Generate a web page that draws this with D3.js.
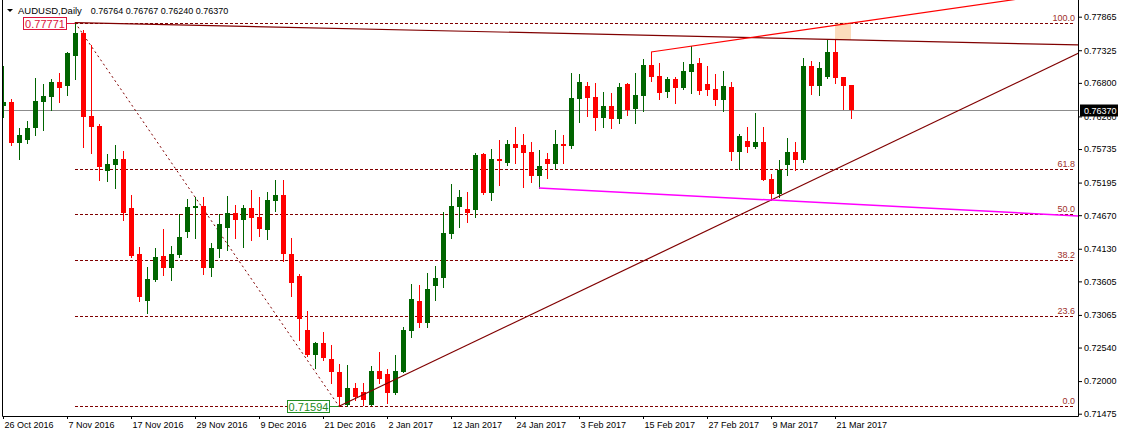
<!DOCTYPE html>
<head>
<meta charset="utf-8">
<style>
    body { margin: 0; background: #fff; }
    svg { display: block; font-family: "Liberation Sans", Arial, sans-serif; }
</style>
</head>
<body>
<script src="https://d3js.org/d3.v7.min.js"></script>
<script>

///////////////////////////
////////// DATA //////////
///////////////////////////

const symbol = 'AUDUSD,Daily';
const firstDay = '2016-10-26';
const lastDay = '2017-03-23';

const opens = [
    0.76427, 0.76492, 0.75831, 0.75880, 0.76073, 0.76492, 0.76572, 0.76814, 0.76749, 0.77232,
    0.77603, 0.76266, 0.76105, 0.75381, 0.75478, 0.75574, 0.74785, 0.74045, 0.73288, 0.73626,
    0.74013, 0.73820, 0.74029, 0.74399, 0.74785, 0.74817, 0.73820, 0.74125, 0.74463, 0.74705,
    0.74592, 0.74785, 0.74641, 0.74431, 0.74898, 0.74995, 0.74045, 0.73691, 0.72821, 0.72419,
    0.72612, 0.72354, 0.72145, 0.71614, 0.71888, 0.71822, 0.71614, 0.72161, 0.72113, 0.71807,
    0.72145, 0.72805, 0.73288, 0.72934, 0.73530, 0.73658, 0.74367, 0.74801, 0.74769, 0.74753,
    0.75654, 0.75027, 0.75574, 0.75510, 0.75815, 0.75799, 0.75687, 0.75300, 0.75574, 0.75494,
    0.75815, 0.75783, 0.76540, 0.76749, 0.76572, 0.76234, 0.76427, 0.76218, 0.76782, 0.76379,
    0.76588, 0.77088, 0.76910, 0.76653, 0.76862, 0.76717, 0.76975, 0.77120, 0.76782, 0.76701,
    0.76524, 0.76733, 0.75687, 0.75864, 0.75767, 0.75848, 0.75252, 0.75011, 0.75478, 0.75687,
    0.75558, 0.77071, 0.76749, 0.76894, 0.77297, 0.76894, 0.76764
];
const highs = [
    0.77071, 0.76540, 0.76073, 0.76186, 0.76878, 0.76782, 0.76862, 0.76959, 0.77297, 0.77771,
    0.77651, 0.77410, 0.76138, 0.75654, 0.75799, 0.75703, 0.74995, 0.74157, 0.73836, 0.74141,
    0.74447, 0.74173, 0.74689, 0.74930, 0.74962, 0.74962, 0.74222, 0.74689, 0.74978, 0.74834,
    0.74834, 0.75075, 0.74962, 0.75043, 0.75236, 0.75236, 0.74302, 0.73723, 0.73127, 0.72628,
    0.72789, 0.72580, 0.72274, 0.72258, 0.71968, 0.71968, 0.72241, 0.72467, 0.72193, 0.72419,
    0.72869, 0.73562, 0.73546, 0.73739, 0.73852, 0.74721, 0.75172, 0.75075, 0.75043, 0.75671,
    0.75671, 0.75735, 0.75880, 0.75880, 0.76089, 0.75977, 0.75848, 0.75719, 0.75671, 0.76041,
    0.75961, 0.76959, 0.76943, 0.76814, 0.76798, 0.76653, 0.76637, 0.76798, 0.76798, 0.76959,
    0.77184, 0.77297, 0.77120, 0.76894, 0.76894, 0.77136, 0.77393, 0.77200, 0.77071, 0.76943,
    0.76991, 0.76814, 0.75977, 0.76089, 0.76315, 0.76089, 0.75333, 0.75558, 0.75912, 0.75848,
    0.77200, 0.77152, 0.77136, 0.77490, 0.77490, 0.76894, 0.76767
];
const lows = [
    0.76250, 0.75799, 0.75574, 0.75831, 0.75961, 0.76041, 0.76363, 0.76492, 0.76605, 0.76862,
    0.75767, 0.75671, 0.75236, 0.75220, 0.75107, 0.74592, 0.73997, 0.73288, 0.73095, 0.73610,
    0.73707, 0.73626, 0.73997, 0.74318, 0.74302, 0.73723, 0.73691, 0.73997, 0.74109, 0.74302,
    0.74157, 0.74270, 0.74334, 0.74286, 0.74737, 0.73933, 0.73369, 0.72660, 0.72400, 0.72209,
    0.72338, 0.71968, 0.71594, 0.71600, 0.71694, 0.71614, 0.71610, 0.71968, 0.71646, 0.71800,
    0.72140, 0.72708, 0.72869, 0.72869, 0.73304, 0.73514, 0.74302, 0.74480, 0.74560, 0.74641,
    0.75011, 0.74914, 0.75156, 0.75478, 0.75510, 0.75123, 0.75204, 0.75107, 0.75268, 0.75413,
    0.75510, 0.75751, 0.76170, 0.76266, 0.76041, 0.76089, 0.76073, 0.76154, 0.76283, 0.76154,
    0.76347, 0.76830, 0.76540, 0.76572, 0.76476, 0.76701, 0.76637, 0.76621, 0.76605, 0.76444,
    0.76347, 0.75558, 0.75413, 0.75687, 0.75751, 0.75230, 0.74914, 0.74962, 0.75317, 0.75397,
    0.75526, 0.76621, 0.76605, 0.76878, 0.76798, 0.76379, 0.76240
];
const closes = [
    0.76492, 0.75831, 0.75961, 0.76073, 0.76508, 0.76588, 0.76814, 0.76717, 0.77281, 0.77603,
    0.76250, 0.76089, 0.75445, 0.75494, 0.75574, 0.74705, 0.74013, 0.73353, 0.73642, 0.73997,
    0.73820, 0.74045, 0.74318, 0.74801, 0.74817, 0.73820, 0.74141, 0.74528, 0.74705, 0.74592,
    0.74785, 0.74624, 0.74447, 0.74914, 0.74995, 0.74045, 0.73578, 0.72999, 0.72419, 0.72612,
    0.72370, 0.72145, 0.71742, 0.71888, 0.71742, 0.71694, 0.72161, 0.72032, 0.71807, 0.72161,
    0.72821, 0.73321, 0.72934, 0.73481, 0.73658, 0.74383, 0.74817, 0.74962, 0.74705, 0.75638,
    0.75027, 0.75574, 0.75542, 0.75815, 0.75751, 0.75671, 0.75300, 0.75461, 0.75494, 0.75815,
    0.75783, 0.76556, 0.76814, 0.76556, 0.76234, 0.76427, 0.76218, 0.76733, 0.76363, 0.76605,
    0.77088, 0.76894, 0.76637, 0.76862, 0.76717, 0.76991, 0.77104, 0.76669, 0.76685, 0.76524,
    0.76749, 0.75687, 0.75944, 0.75767, 0.75848, 0.75236, 0.75011, 0.75397, 0.75687, 0.75558,
    0.77071, 0.76749, 0.77039, 0.77297, 0.76878, 0.76749, 0.76370
];

const xTickLabels = ['26 Oct 2016', '7 Nov 2016', '17 Nov 2016', '29 Nov 2016', '9 Dec 2016',
    '21 Dec 2016', '2 Jan 2017', '12 Jan 2017', '24 Jan 2017', '3 Feb 2017', '15 Feb 2017',
    '27 Feb 2017', '9 Mar 2017', '21 Mar 2017'];
const yTickLabels = ['0.77865', '0.77325', '0.76800', '0.76260', '0.75735', '0.75195', '0.74670',
    '0.74130', '0.73605', '0.73065', '0.72540', '0.72000', '0.71475'];

// drawn objects: [bar index, price]
const fibHigh = [9, 0.77771];
const fibLow = [42, 0.71594];
const fibLevels = [0, 23.6, 38.2, 50, 61.8, 100];
const topTrend = [[9, 0.77771], [134.4, 0.77410]];
const redTrend = [[81, 0.77297], [107, 0.77780]];
const supportTrend = [[42, 0.71594], [96, 0.74914]];
const magentaTrend = [[67, 0.75107], [96, 0.74914]];
const peachBox = [[104, 0.77771], [106, 0.77490]];
const lastPrice = 0.76370;

///////////////////////////
////////// SETUP //////////
///////////////////////////

const width = 1121, height = 437;
const plotLeft = 2.5, plotRight = 1078.5, plotBottom = 416.5;
const lastIndex = 134.4;

const svg = d3.select('body').append('svg')
    .attr('width', width)
    .attr('height', height);

const parse = d3.timeParse('%Y-%m-%d');
const fmtDay = d3.timeFormat('%-d %b %Y');
const dates = d3.timeDays(parse(firstDay), d3.timeDay.offset(parse(lastDay), 1))
    .filter(d => d.getDay() !== 0 && d.getDay() !== 6);

const bars = dates.map((d, i) => ({
    i: i, date: d, o: opens[i], h: highs[i], l: lows[i], c: closes[i]
}));

const x = d3.scaleLinear().domain([0, 134.375]).range([3, 1078]);
const y = d3.scaleLinear().domain([0.71475, 0.77865]).range([413.7, 16.7]);

svg.append('defs').append('clipPath').attr('id', 'plot')
    .append('rect').attr('x', 3).attr('y', 0).attr('width', 1075).attr('height', 416);

const plot = svg.append('g').attr('clip-path', 'url(#plot)');

// extend a two-point line to the right edge
function ray(p) {
    const slope = (p[1][1] - p[0][1]) / (p[1][0] - p[0][0]);
    return [p[0], [lastIndex, p[0][1] + slope * (lastIndex - p[0][0])]];
}
const line = d3.line().x(d => x(d[0])).y(d => y(d[1]));

//////////////////////////
////////// DRAW //////////
//////////////////////////

// peach rectangle
plot.append('rect')
    .attr('x', x(peachBox[0][0]))
    .attr('y', y(peachBox[0][1]))
    .attr('width', x(peachBox[1][0]) - x(peachBox[0][0]))
    .attr('height', y(peachBox[1][1]) - y(peachBox[0][1]))
    .attr('fill', '#fcdcbd');

// last price line
plot.append('line')
    .attr('x1', 3).attr('x2', 1078)
    .attr('y1', Math.round(y(lastPrice)) + 0.5).attr('y2', Math.round(y(lastPrice)) + 0.5)
    .attr('stroke', '#8c8c8c');

// fibonacci levels
const fibRange = fibHigh[1] - fibLow[1];
const fib = plot.append('g');
fib.selectAll('line.level').data(fibLevels).join('line')
    .attr('class', 'level')
    .attr('x1', x(fibHigh[0])).attr('x2', 1075)
    .attr('y1', d => Math.round(y(fibLow[1] + fibRange * d / 100)) + 0.5)
    .attr('y2', d => Math.round(y(fibLow[1] + fibRange * d / 100)) + 0.5)
    .attr('stroke', '#800000')
    .attr('stroke-dasharray', '3,2');
fib.selectAll('text').data(fibLevels).join('text')
    .attr('x', 1075)
    .attr('y', d => Math.round(y(fibLow[1] + fibRange * d / 100)) - 2)
    .attr('text-anchor', 'end')
    .attr('font-size', 9)
    .attr('fill', '#a0302a')
    .text(d => d3.format('.1f')(d));
plot.append('path')
    .attr('d', line([fibHigh, fibLow]))
    .attr('fill', 'none')
    .attr('stroke', '#800000')
    .attr('stroke-dasharray', '2,3');

// candles
const candle = plot.append('g').selectAll('g').data(bars).join('g')
    .attr('fill', d => d.c >= d.o ? '#006400' : '#ff0000')
    .attr('stroke', d => d.c >= d.o ? '#006400' : '#ff0000');
candle.append('line')
    .attr('x1', d => Math.round(x(d.i)) + 0.5).attr('x2', d => Math.round(x(d.i)) + 0.5)
    .attr('y1', d => Math.round(y(d.h))).attr('y2', d => Math.round(y(d.l)) + 1);
candle.append('rect')
    .attr('stroke', 'none')
    .attr('x', d => Math.round(x(d.i)) - 2)
    .attr('width', 5)
    .attr('y', d => Math.round(y(Math.max(d.o, d.c))))
    .attr('height', d => Math.max(1, Math.round(y(Math.min(d.o, d.c))) - Math.round(y(Math.max(d.o, d.c)))));

// trend lines
plot.append('path').attr('d', line(ray(topTrend)))
    .attr('fill', 'none').attr('stroke', '#800000').attr('stroke-width', 1.2);
plot.append('path').attr('d', line(ray(redTrend)))
    .attr('fill', 'none').attr('stroke', '#ff0000').attr('stroke-width', 1.2);
plot.append('path').attr('d', line(ray(supportTrend)))
    .attr('fill', 'none').attr('stroke', '#800000').attr('stroke-width', 1.2);
plot.append('path').attr('d', line(ray(magentaTrend)))
    .attr('fill', 'none').attr('stroke', '#ff00ff').attr('stroke-width', 1.5);

// price labels at the swing high and low
function priceLabel(pt, color, boxW, gap) {
    const px = x(pt[0]), py = Math.round(y(pt[1])) + 0.5;
    const g = plot.append('g');
    g.append('line')
        .attr('x1', px - gap).attr('x2', px).attr('y1', py).attr('y2', py)
        .attr('stroke', color);
    g.append('rect')
        .attr('x', px - gap - boxW + 0.5).attr('y', py - 6)
        .attr('width', boxW).attr('height', 12)
        .attr('fill', '#fff').attr('stroke', color);
    g.append('text')
        .attr('x', px - gap - boxW / 2 + 0.5).attr('y', py + 4)
        .attr('text-anchor', 'middle')
        .attr('font-size', 11)
        .attr('fill', color)
        .text(pt[1].toFixed(5));
}
priceLabel(fibHigh, '#dc143c', 43, 9);
priceLabel(fibLow, '#228b22', 42, 10);

// frame
svg.append('path')
    .attr('d', `M${plotLeft},0V${plotBottom}H${plotRight}V0`)
    .attr('fill', 'none')
    .attr('stroke', '#000');

// y axis
const yAxis = svg.append('g')
    .attr('transform', `translate(${plotRight - 0.5},0)`)
    .call(d3.axisRight(y)
        .tickValues(yTickLabels.map(Number))
        .tickFormat(d3.format('.5f'))
        .tickSize(4).tickPadding(2));
yAxis.select('.domain').remove();
yAxis.selectAll('text').attr('font-size', 9).attr('font-family', null);

// x axis
const tickIdx = xTickLabels.map(s => dates.findIndex(d => fmtDay(d) === s));
const xAxis = svg.append('g')
    .attr('transform', `translate(0,${plotBottom - 0.5})`)
    .call(d3.axisBottom(x)
        .tickValues(tickIdx)
        .tickFormat((d, k) => xTickLabels[k])
        .tickSize(3).tickPadding(3));
xAxis.select('.domain').remove();
xAxis.selectAll('text')
    .attr('font-size', 9).attr('font-family', null)
    .attr('text-anchor', 'start').attr('dx', 1);

// last price tag (covers the upper half of the 0.76260 tick label, as in MT4)
const ly = Math.round(y(lastPrice)) + 0.5;
svg.append('rect')
    .attr('x', 1080).attr('y', ly - 6).attr('width', 38).attr('height', 12)
    .attr('fill', '#000');
svg.append('text')
    .attr('x', 1084).attr('y', ly + 3.5)
    .attr('font-size', 9).attr('fill', '#fff')
    .text(lastPrice.toFixed(5));

// title
svg.append('path').attr('d', 'M7,9L13,9L10,12Z').attr('fill', '#000');
svg.append('text').attr('x', 18).attr('y', 14).attr('font-size', 9.5)
    .text(symbol);
const last = bars[bars.length - 1];
svg.append('text').attr('x', 90.7).attr('y', 14).attr('font-size', 9)
    .text([last.o, last.h, last.l, last.c].map(v => v.toFixed(5)).join(' '));

</script>
</body>
